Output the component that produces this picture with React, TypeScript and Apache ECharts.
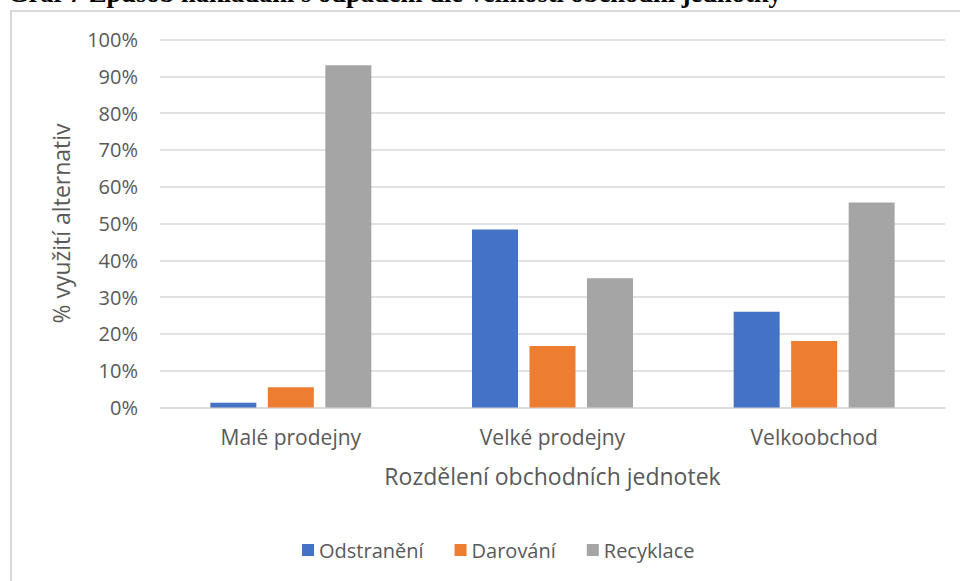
import React, { useEffect, useRef } from "react";
import * as echarts from "echarts";

const categories = ["Malé prodejny", "Velké prodejny", "Velkoobchod"];
const odstraneni = [1.3, 48.4, 26.0];
const darovani = [5.5, 16.7, 18.1];
const recyklace = [93.0, 35.1, 55.7];
const seriesNames = ["Odstranění", "Darování", "Recyklace"];
const colors = ["#4472C4", "#ED7D31", "#A5A5A5"];
const titleText = "Graf 7 Způsob nakládání s odpadem dle velikosti obchodní jednotky";

const FONT = "'Open Sans', sans-serif";
const TEXT = "#595959";

export default function App() {
  const ref = useRef<HTMLDivElement>(null);
  useEffect(() => {
    if (!ref.current) return;
    const chart = echarts.init(ref.current, null, { renderer: "svg" });
    const data = [odstraneni, darovani, recyklace];
    chart.setOption({
      animation: false,
      backgroundColor: "#ffffff",
      graphic: [
        {
          type: "rect",
          shape: { x: 11, y: 11, width: 1000, height: 1000 },
          style: { fill: "none", stroke: "#d9d9d9", lineWidth: 2 },
          silent: true,
        },
        {
          type: "text",
          x: 8,
          y: 6,
          style: {
            text: titleText,
            font: "bold 26.5px 'Liberation Serif', serif",
            fill: "#000000",
            verticalAlign: "bottom",
          },
        },
      ],
      grid: { left: 160, right: 15, top: 39.5, bottom: 173.5, containLabel: false },
      legend: {
        left: 297,
        top: 535,
        itemWidth: 12,
        itemHeight: 12,
        itemGap: 31,
        itemTextGap: 4,
        icon: "rect",
        textStyle: { color: TEXT, fontFamily: FONT, fontSize: 20 },
        data: seriesNames,
      },
      xAxis: {
        type: "category",
        data: categories,
        axisTick: { show: false },
        axisLine: { lineStyle: { color: "#d9d9d9", width: 1.5 } },
        axisLabel: { color: TEXT, fontFamily: FONT, fontSize: 21, margin: 19 },
        name: "Rozdělení obchodních jednotek",
        nameLocation: "middle",
        nameGap: 57,
        nameTextStyle: { color: TEXT, fontFamily: FONT, fontSize: 23 },
      },
      yAxis: {
        type: "value",
        min: 0,
        max: 100,
        interval: 10,
        axisLabel: { formatter: "{value}%", color: TEXT, fontFamily: FONT, fontSize: 20, margin: 22 },
        splitLine: { lineStyle: { color: "#d9d9d9", width: 1.5 } },
        axisLine: { show: false },
        axisTick: { show: false },
        name: "% využití alternativ",
        nameLocation: "middle",
        nameGap: 88,
        nameRotate: 90,
        nameTextStyle: { color: TEXT, fontFamily: FONT, fontSize: 23 },
      },
      series: seriesNames.map((n, i) => ({
        name: n,
        type: "bar",
        data: data[i],
        barWidth: 46,
        barGap: "25%",
        itemStyle: { color: colors[i] },
      })),
    });
    return () => chart.dispose();
  }, []);
  return (
    <div
      ref={ref}
      style={{ position: "absolute", left: 0, top: 0, width: 960, height: 581 }}
    />
  );
}
